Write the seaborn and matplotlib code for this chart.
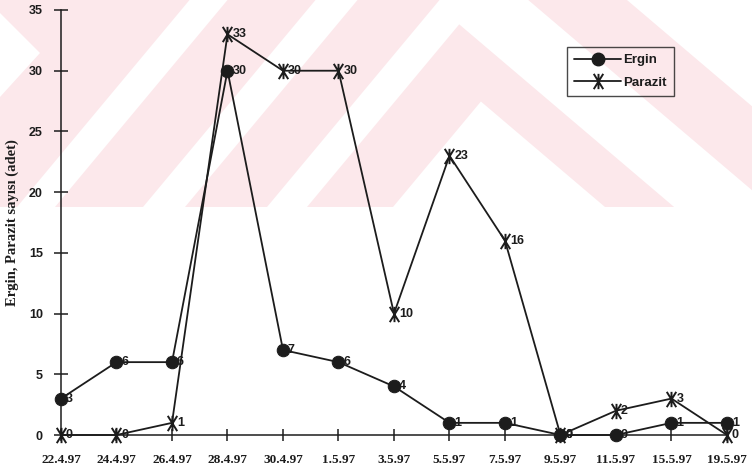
import numpy as np
import pandas as pd
import matplotlib
matplotlib.use("Agg")
import matplotlib.pyplot as plt
from matplotlib.path import Path
from matplotlib.patches import Polygon, Rectangle
from matplotlib.lines import Line2D
from matplotlib.transforms import Affine2D
import seaborn as sns

# Sampling dates and counts
dates = ["22.4.97", "24.4.97", "26.4.97", "28.4.97", "30.4.97", "1.5.97", "3.5.97",
         "5.5.97", "7.5.97", "9.5.97", "11.5.97", "15.5.97", "19.5.97"]
ergin = [3, 6, 6, 30, 7, 6, 4, 1, 1, 0, 0, 1, 1]
parazit = [0, 0, 1, 33, 30, 30, 10, 23, 16, 0, 2, 3, 0]
y_ticks = [0, 5, 10, 15, 20, 25, 30, 35]
y_label = "Ergin, Parazit sayısı (adet)"
series_names = ["Ergin", "Parazit"]

INK = "#1c1c1c"
PINK = "#fce8eb"

sns.set_theme(style="ticks")
plt.rcParams["font.family"] = ["Liberation Sans", "DejaVu Sans"]

W, H = 752, 471
fig = plt.figure(figsize=(W / 100, H / 100), dpi=100, facecolor="white")
ax = fig.add_axes([61 / W, 1 - 435 / H, 666 / W, 425 / H])
ax.patch.set_visible(False)

# Pink band with white chevron stripes across the top of the page (pixel units)
px = Affine2D().scale(1 / W, -1 / H).translate(0, 1) + fig.transFigure
BAND_H = 207
band = Rectangle((0, 0), W, BAND_H, transform=px, facecolor=PINK,
                 edgecolor="none", zorder=-10)
fig.add_artist(band)

S_LEFT, S_RIGHT = 1.2, 0.85


def meet(x0, pt):
    x1, y1 = pt
    x = (BAND_H + S_LEFT * x0 - y1 + S_RIGHT * x1) / (S_LEFT + S_RIGHT)
    return (x, BAND_H - S_LEFT * (x - x0))


def right_at(pt, x):
    return (x, pt[1] + S_RIGHT * (x - pt[0]))


def chevron(xl_out, xl_in, r_out, r_in):
    return [(xl_out, BAND_H), meet(xl_out, r_out), right_at(r_out, 1000),
            right_at(r_in, 1000), meet(xl_in, r_in), (xl_in, BAND_H)]


shapes = [
    [(393, BAND_H), meet(393, (605, BAND_H)), (605, BAND_H)],
    chevron(267, 307, (560, 27), (560, 110)),
    chevron(143, 185, (627, -300), (627, 0)),
    chevron(17, 55, (627, -420), (627, -330)),
    [(0, 13), (40, 53), (0, 97)],
]
for verts in shapes:
    poly = Polygon(verts, closed=True, transform=px, facecolor="white",
                   edgecolor="none", zorder=-9)
    fig.add_artist(poly)
    poly.set_clip_path(band)

# Asterisk marker: vertical bar crossed by an X
star = Path([(0, -1), (0, 1), (-0.62, -1), (0.62, 1), (-0.62, 1), (0.62, -1)],
            [Path.MOVETO, Path.LINETO, Path.MOVETO, Path.LINETO,
             Path.MOVETO, Path.LINETO])

pos = np.arange(len(dates))
df = pd.DataFrame({"pos": pos, "Ergin": ergin, "Parazit": parazit})

sns.lineplot(data=df, x="pos", y="Ergin", ax=ax, color=INK, lw=1.3,
             marker="o", markersize=9, markerfacecolor=INK, markeredgecolor=INK,
             clip_on=False, zorder=3)
sns.lineplot(data=df, x="pos", y="Parazit", ax=ax, color=INK, lw=1.3,
             marker=star, markersize=11, markerfacecolor="none",
             markeredgecolor=INK, markeredgewidth=1.4, clip_on=False, zorder=4)

for values in (ergin, parazit):
    for i, v in enumerate(values):
        ax.annotate(str(v), (pos[i], v), xytext=(3.5, 0), textcoords="offset points",
                    ha="left", va="center", fontsize=9, fontweight="bold",
                    color=INK, zorder=5)

ax.set_xlim(0, len(dates) - 1)
ax.set_ylim(0, 35)
ax.set_xticks(pos)
ax.set_xticklabels(dates, family=["Liberation Serif", "DejaVu Serif"],
                   fontweight="bold", fontsize=9.5, color=INK)
ax.set_yticks(y_ticks)
ax.set_yticklabels([str(t) for t in y_ticks], fontweight="bold", fontsize=9,
                   color=INK)
ax.tick_params(axis="y", direction="inout", length=10, width=1.1, color=INK, pad=8)
ax.tick_params(axis="x", direction="inout", length=9, width=1.1, color=INK, pad=9)
ax.set_xlabel("")
ax.set_ylabel(y_label, family=["Liberation Serif", "DejaVu Serif"],
              fontweight="bold", fontsize=10.5, color=INK, labelpad=7)

sns.despine(ax=ax)
for s in ("left", "bottom"):
    ax.spines[s].set_color(INK)
    ax.spines[s].set_linewidth(1.1)

handles = [
    Line2D([], [], color=INK, lw=1.3, marker="o", markersize=9,
           markerfacecolor=INK, markeredgecolor=INK),
    Line2D([], [], color=INK, lw=1.3, marker=star, markersize=11,
           markerfacecolor="none", markeredgecolor=INK, markeredgewidth=1.4),
]
leg = ax.legend(handles, series_names, loc="upper left",
                bbox_to_anchor=(0.760, 0.913), borderaxespad=0,
                prop={"weight": "bold", "size": 9.5}, handlelength=3.5,
                handletextpad=0.2, labelspacing=0.75, borderpad=0.55,
                frameon=True, fancybox=False)
leg.get_frame().set_edgecolor(INK)
leg.get_frame().set_linewidth(1.0)
leg.get_frame().set_facecolor("none")
for t in leg.get_texts():
    t.set_color(INK)

fig.savefig("out.png", dpi=100, facecolor="white")
